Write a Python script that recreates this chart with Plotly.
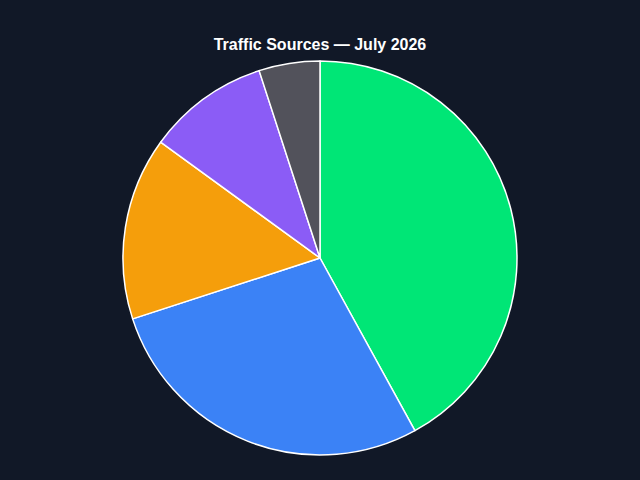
import plotly.graph_objects as go

# traffic share by source, July 2026 (percent)
sources = ["Organic Search", "Direct", "Social", "Referral", "Other"]
share = [42, 28, 15, 10, 5]
colors = ["#00e676", "#3b82f6", "#f59e0b", "#8b5cf6", "#52525b"]

fig = go.Figure(go.Pie(
    labels=sources,
    values=share,
    sort=False,
    direction="clockwise",
    rotation=0,
    textinfo="none",
    marker=dict(colors=colors, line=dict(color="#ffffff", width=1.5)),
))

fig.update_layout(
    width=640, height=480,
    paper_bgcolor="#111827",
    plot_bgcolor="#111827",
    showlegend=False,
    margin=dict(l=20, r=20, t=61, b=25),
    title=dict(text="<b>Traffic Sources — July 2026</b>",
               x=0.5, xanchor="center",
               yref="container", y=1 - 44 / 480, yanchor="middle",
               font=dict(family="Liberation Sans, Arial, sans-serif", size=16, color="#ffffff")),
)

# drop the browser's default body margin so the figure fills the window
fig.write_html("out.html",
               config={"displayModeBar": False},
               post_script="document.body.style.margin='0';"
                           "document.body.style.background='#111827';")
